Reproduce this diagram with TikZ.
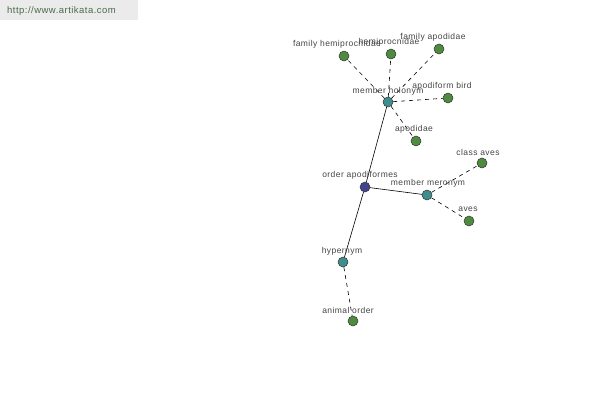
\documentclass[tikz,border=0pt]{standalone}
\usepackage{fontspec}
\setmainfont{Liberation Sans}[LetterSpace=5]
\definecolor{leafg}{HTML}{4E8B3E}
\definecolor{relc}{HTML}{3E8E8E}
\definecolor{rootc}{HTML}{40448E}
\definecolor{labc}{HTML}{444444}
\definecolor{hdrbg}{HTML}{EBEBEB}
\definecolor{hdrtx}{HTML}{4A6A4A}
\begin{document}
\begin{tikzpicture}[x=1pt,y=-1pt,
  dot/.style={circle,draw=black!80,line width=0.5pt,minimum size=10pt,inner sep=0pt},
  leaf/.style={dot,fill=leafg},
  rel/.style={dot,fill=relc},
  root/.style={dot,fill=rootc},
  lab/.style={font=\fontsize{8.5}{9}\selectfont,text=labc,inner sep=0pt},
  solidedge/.style={draw=black,line width=0.6pt},
  dashedge/.style={draw=black,line width=0.6pt,dash pattern=on 4pt off 4pt}]
\useasboundingbox (0,0) rectangle (600,400);
\fill[hdrbg] (0,0) rectangle (138,20);
\node[font=\fontsize{9.5}{10}\selectfont,text=hdrtx,anchor=west,inner sep=0pt] (hdr) at (7,11) {http://www.artikata.com};
% nodes
\node[root] (oa) at (365,187) {};
\node[rel] (mh) at (388,102) {};
\node[rel] (mm) at (427,195) {};
\node[rel] (hy) at (343,262) {};
\node[leaf] (fh) at (344,56) {};
\node[leaf] (hp) at (391,54) {};
\node[leaf] (fa) at (439,49) {};
\node[leaf] (ab) at (448,98) {};
\node[leaf] (ap) at (416,141) {};
\node[leaf] (ca) at (482,163) {};
\node[leaf] (av) at (469,221) {};
\node[leaf] (ao) at (353,321) {};
% edges
\draw[solidedge] (oa) -- (mh);
\draw[solidedge] (oa) -- (mm);
\draw[solidedge] (oa) -- (hy);
\draw[dashedge] (mh) -- (fh);
\draw[dashedge] (mh) -- (hp);
\draw[dashedge] (mh) -- (fa);
\draw[dashedge] (mh) -- (ab);
\draw[dashedge] (mh) -- (ap);
\draw[dashedge] (mm) -- (ca);
\draw[dashedge] (mm) -- (av);
\draw[dashedge] (hy) -- (ao);
% labels
\node[lab] (lfh) at (337,44) {family hemiprocnidae};
\node[lab] (lhp) at (389,42) {hemiprocnidae};
\node[lab] (lfa) at (433,37) {family apodidae};
\node[lab] (lmh) at (388,91) {member holonym};
\node[lab] (lab) at (442,86) {apodiform bird};
\node[lab] (lap) at (414,129) {apodidae};
\node[lab] (lca) at (478,152) {class aves};
\node[lab] (loa) at (360,175) {order apodiformes};
\node[lab] (lmm) at (428,183) {member meronym};
\node[lab] (lav) at (468,209) {aves};
\node[lab] (lhy) at (342,251) {hypernym};
\node[lab] (lao) at (348,310) {animal order};
\end{tikzpicture}
\end{document}
